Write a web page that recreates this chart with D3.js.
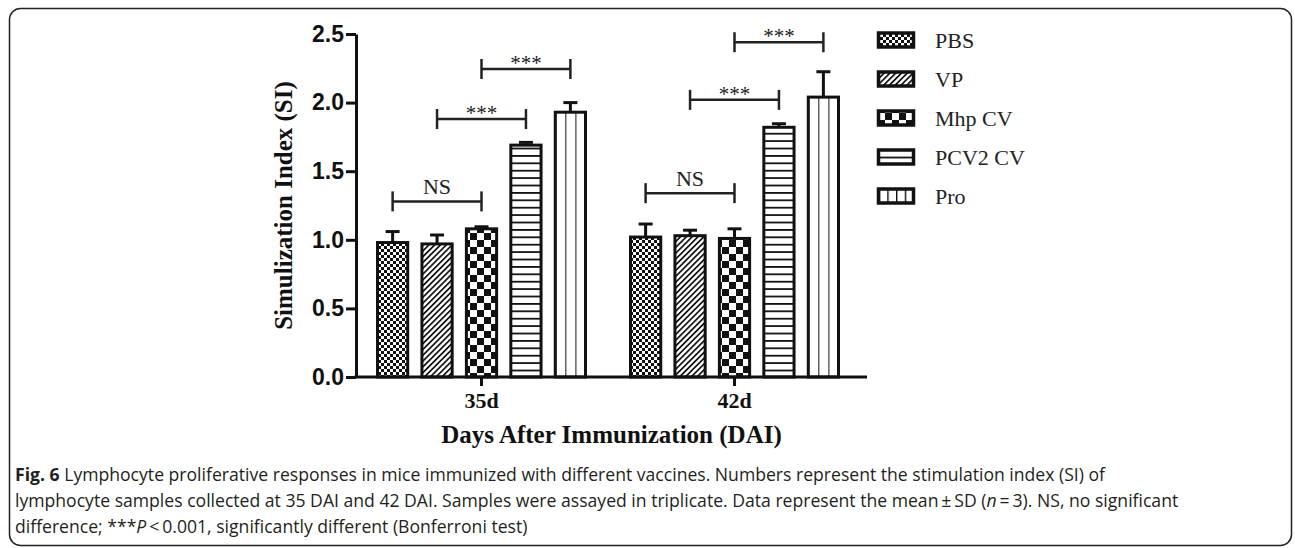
<!DOCTYPE html>
<html lang="en">
<head>
  <meta charset="UTF-8">
  <title>Lymphocyte proliferative responses</title>
  <script src="https://d3js.org/d3.v7.min.js"></script>
  <style>
    body {
      margin: 0;
      padding: 0;
      background: #fff;
    }
    svg {
      display: block;
    }
    .serif {
      font-family: "Liberation Serif", "Times New Roman", serif;
    }
    .caption {
      font-family: "Open Sans", "Noto Sans", sans-serif;
      font-size: 17.6px;
      fill: #231f20;
    }
  </style>
</head>
<body>
  <svg width="1295" height="548"></svg>

  <script>
    const days = ["35d", "42d"];
    const groups = ["PBS", "VP", "Mhp CV", "PCV2 CV", "Pro"];
    const means35 = [0.98, 0.97, 1.08, 1.69, 1.93];
    const sd35 = [0.08, 0.065, 0.015, 0.02, 0.07];
    const means42 = [1.02, 1.03, 1.01, 1.82, 2.04];
    const sd42 = [0.095, 0.04, 0.07, 0.026, 0.185];
    const yTicks = [0, 0.5, 1, 1.5, 2, 2.5];

    // significance brackets
    const bracketDay = ["35d", "35d", "35d", "42d", "42d", "42d"];
    const bracketFrom = ["PBS", "VP", "Mhp CV", "PBS", "VP", "Mhp CV"];
    const bracketTo = ["Mhp CV", "PCV2 CV", "Pro", "Mhp CV", "PCV2 CV", "Pro"];
    const bracketLevel = [1.28, 1.88, 2.245, 1.34, 2.02, 2.44];
    const bracketText = ["NS", "***", "***", "NS", "***", "***"];

    const svg = d3.select("svg");
    const plotLeft = 356, plotRight = 867, plotTop = 34, plotBottom = 377;

    const y = d3.scaleLinear().domain([0, 2.5]).range([plotBottom, plotTop]);
    const x0 = d3.scaleBand().domain(days).range([355, 861]);
    const x1 = d3.scaleBand().domain(groups).range([-104, 104]).paddingInner(0.32);
    const center = d => x0(d) + x0.bandwidth() / 2;

    // frame
    svg.append("rect")
      .attr("x", 9.5).attr("y", 8.5)
      .attr("width", 1282).attr("height", 537)
      .attr("rx", 11)
      .attr("fill", "none")
      .attr("stroke", "#222")
      .attr("stroke-width", 1.5);

    // patterns
    const defs = svg.append("defs");

    const fine = defs.append("pattern").attr("id", "p-pbs")
      .attr("patternUnits", "userSpaceOnUse").attr("width", 6).attr("height", 6);
    fine.append("rect").attr("width", 6).attr("height", 6).attr("fill", "#fff");
    fine.append("rect").attr("width", 3).attr("height", 3).attr("fill", "#111");
    fine.append("rect").attr("x", 3).attr("y", 3).attr("width", 3).attr("height", 3).attr("fill", "#111");

    const diag = defs.append("pattern").attr("id", "p-vp")
      .attr("patternUnits", "userSpaceOnUse").attr("width", 4.1).attr("height", 10)
      .attr("patternTransform", "rotate(45)");
    diag.append("rect").attr("width", 4.1).attr("height", 10).attr("fill", "#fff");
    diag.append("rect").attr("width", 1.7).attr("height", 10).attr("fill", "#111");

    const coarse = defs.append("pattern").attr("id", "p-mhp")
      .attr("patternUnits", "userSpaceOnUse").attr("width", 14).attr("height", 14)
      .attr("x", 1).attr("y", 2);
    coarse.append("rect").attr("width", 14).attr("height", 14).attr("fill", "#fff");
    coarse.append("rect").attr("width", 7).attr("height", 7).attr("fill", "#111");
    coarse.append("rect").attr("x", 7).attr("y", 7).attr("width", 7).attr("height", 7).attr("fill", "#111");

    const horiz = defs.append("pattern").attr("id", "p-pcv2")
      .attr("patternUnits", "userSpaceOnUse").attr("width", 10).attr("height", 7.4)
      .attr("y", plotBottom);
    horiz.append("rect").attr("width", 10).attr("height", 7.4).attr("fill", "#fff");
    horiz.append("rect").attr("width", 10).attr("height", 1.8).attr("fill", "#111");

    const vert = defs.append("pattern").attr("id", "p-pro")
      .attr("patternUnits", "objectBoundingBox").attr("width", 1 / 3).attr("height", 1);
    vert.append("rect").attr("width", 20).attr("height", 400).attr("fill", "#fff");
    vert.append("rect").attr("x", -1).attr("width", 2).attr("height", 400).attr("fill", "#111");

    const vertLegend = defs.append("pattern").attr("id", "p-pro-legend")
      .attr("patternUnits", "objectBoundingBox").attr("width", 1 / 4).attr("height", 1);
    vertLegend.append("rect").attr("width", 20).attr("height", 40).attr("fill", "#fff");
    vertLegend.append("rect").attr("x", -1).attr("width", 2.4).attr("height", 40).attr("fill", "#111");

    const fills = ["url(#p-pbs)", "url(#p-vp)", "url(#p-mhp)", "url(#p-pcv2)", "url(#p-pro)"];
    const legendFills = ["url(#p-pbs)", "url(#p-vp)", "url(#p-mhp)", "url(#p-pcv2)", "url(#p-pro-legend)"];
    const fill = d3.scaleOrdinal().domain(groups).range(fills);

    const rows = [];
    days.forEach((day, di) => {
      const means = di === 0 ? means35 : means42;
      const sds = di === 0 ? sd35 : sd42;
      groups.forEach((g, i) => rows.push({ day, group: g, mean: means[i], sd: sds[i] }));
    });

    // bars
    svg.append("g").selectAll("rect")
      .data(rows)
      .join("rect")
      .attr("x", d => center(d.day) + x1(d.group))
      .attr("y", d => y(d.mean))
      .attr("width", x1.bandwidth())
      .attr("height", d => y(0) - y(d.mean))
      .attr("fill", d => fill(d.group))
      .attr("stroke", "#111")
      .attr("stroke-width", 3);

    // error bars (upper only)
    const err = svg.append("g").attr("stroke", "#111").attr("stroke-width", 3);
    err.selectAll("line.v")
      .data(rows)
      .join("line")
      .attr("class", "v")
      .attr("x1", d => center(d.day) + x1(d.group) + x1.bandwidth() / 2)
      .attr("x2", d => center(d.day) + x1(d.group) + x1.bandwidth() / 2)
      .attr("y1", d => y(d.mean))
      .attr("y2", d => y(d.mean + d.sd));
    err.selectAll("line.c")
      .data(rows)
      .join("line")
      .attr("class", "c")
      .attr("x1", d => center(d.day) + x1(d.group) + x1.bandwidth() / 2 - 7)
      .attr("x2", d => center(d.day) + x1(d.group) + x1.bandwidth() / 2 + 7)
      .attr("y1", d => y(d.mean + d.sd))
      .attr("y2", d => y(d.mean + d.sd));

    // axes
    const yAxis = svg.append("g")
      .attr("transform", `translate(${plotLeft},0)`)
      .call(d3.axisLeft(y).tickValues(yTicks).tickFormat(d3.format(".1f")).tickSize(10).tickSizeOuter(0).tickPadding(2));
    yAxis.selectAll("path, line").attr("stroke", "#111").attr("stroke-width", 3);
    yAxis.selectAll("text")
      .attr("fill", "#111")
      .style("font-family", "'Liberation Sans', Arial, sans-serif")
      .style("font-weight", "bold")
      .style("font-size", "23px");

    const xAxis = svg.append("g")
      .attr("transform", `translate(0,${plotBottom})`)
      .call(d3.axisBottom(x0).tickSize(9).tickSizeOuter(0).tickPadding(6));
    xAxis.select(".domain").remove();
    xAxis.append("line")
      .attr("x1", plotLeft - 1.5).attr("x2", plotRight)
      .attr("stroke", "#111").attr("stroke-width", 3);
    xAxis.selectAll(".tick line").attr("stroke", "#111").attr("stroke-width", 3);
    xAxis.selectAll("text")
      .attr("fill", "#111")
      .attr("class", "serif")
      .style("font-weight", "bold")
      .style("font-size", "22px");

    // axis titles
    svg.append("text")
      .attr("class", "serif")
      .attr("transform", `translate(292,${(plotTop + plotBottom) / 2}) rotate(-90)`)
      .attr("text-anchor", "middle")
      .style("font-weight", "bold")
      .style("font-size", "25px")
      .attr("fill", "#111")
      .text("Simulization Index (SI)");

    svg.append("text")
      .attr("class", "serif")
      .attr("x", (plotLeft + plotRight) / 2)
      .attr("y", 443)
      .attr("text-anchor", "middle")
      .style("font-weight", "bold")
      .style("font-size", "25px")
      .attr("fill", "#111")
      .text("Days After Immunization (DAI)");

    // significance brackets
    const brackets = bracketDay.map((day, i) => ({
      x1: center(day) + x1(bracketFrom[i]) + x1.bandwidth() / 2,
      x2: center(day) + x1(bracketTo[i]) + x1.bandwidth() / 2,
      y: y(bracketLevel[i]),
      text: bracketText[i]
    }));
    const br = svg.append("g").attr("stroke", "#222").attr("stroke-width", 2.5);
    brackets.forEach(b => {
      br.append("line").attr("x1", b.x1).attr("x2", b.x2).attr("y1", b.y).attr("y2", b.y);
      br.append("line").attr("x1", b.x1).attr("x2", b.x1).attr("y1", b.y - 10).attr("y2", b.y + 10);
      br.append("line").attr("x1", b.x2).attr("x2", b.x2).attr("y1", b.y - 10).attr("y2", b.y + 10);
    });
    svg.append("g").selectAll("text")
      .data(brackets)
      .join("text")
      .attr("class", "serif")
      .attr("x", d => (d.x1 + d.x2) / 2)
      .attr("y", d => d.text === "NS" ? d.y - 7 : d.y + 1)
      .attr("text-anchor", "middle")
      .style("font-size", d => d.text === "NS" ? "22px" : "21px")
      .attr("fill", "#222")
      .text(d => d.text);

    // legend
    const ly = d3.scalePoint().domain(groups).range([40, 196]);
    const legend = svg.append("g").selectAll("g")
      .data(groups)
      .join("g")
      .attr("transform", d => `translate(877,${ly(d)})`);
    legend.append("rect")
      .attr("x", 1.5).attr("y", -7)
      .attr("width", 35).attr("height", 14)
      .attr("fill", (d, i) => legendFills[i])
      .attr("stroke", "#111")
      .attr("stroke-width", 3.5);
    legend.append("text")
      .attr("class", "serif")
      .attr("x", 58)
      .attr("y", 8)
      .style("font-size", "22px")
      .attr("fill", "#222")
      .text(d => d);

    // caption
    const cap = svg.append("text").attr("class", "caption");
    const line1 = cap.append("tspan").attr("x", 15).attr("y", 481);
    line1.append("tspan").style("font-weight", "bold").text("Fig. 6");
    line1.append("tspan").text(" Lymphocyte proliferative responses in mice immunized with different vaccines. Numbers represent the stimulation index (SI) of");
    const line2 = cap.append("tspan").attr("x", 15).attr("y", 507);
    line2.append("tspan").text("lymphocyte samples collected at 35 DAI and 42 DAI. Samples were assayed in triplicate. Data represent the mean\u2009\u00b1\u2009SD (");
    line2.append("tspan").style("font-style", "italic").text("n");
    line2.append("tspan").text("\u2009=\u20093). NS, no significant");
    const line3 = cap.append("tspan").attr("x", 15).attr("y", 533);
    line3.append("tspan").text("difference; ***");
    line3.append("tspan").style("font-style", "italic").text("P");
    line3.append("tspan").text("\u2009<\u20090.001, significantly different (Bonferroni test)");
  </script>
</body>
</html>
